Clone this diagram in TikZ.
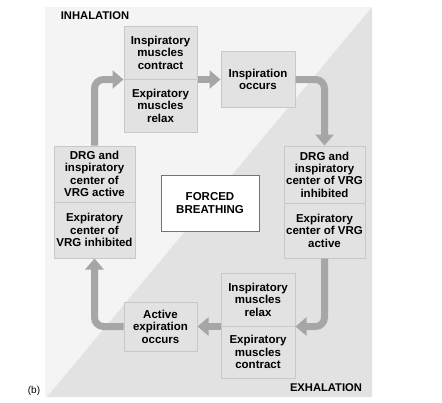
\documentclass[tikz,border=0pt]{standalone}
\usepackage{xcolor}
\usepackage{fontspec}
\setmainfont{Liberation Sans}
\usepackage{tikz}
\usetikzlibrary{arrows.meta}

\definecolor{panellight}{HTML}{F4F4F4}
\definecolor{paneldark}{HTML}{E2E2E2}
\definecolor{boxfill}{HTML}{E2E2E2}
\definecolor{boxline}{HTML}{C8C8C8}
\definecolor{arrowgray}{HTML}{A6A6A6}

\begin{document}
\begin{tikzpicture}[
    x=1pt, y=-1pt,
    box/.style={
        draw=boxline,
        fill=boxfill,
        line width=1pt,
        align=center,
        inner sep=0pt,
        font=\fontsize{11.5}{12.4}\selectfont\bfseries
    },
    arrow/.style={
        -{Triangle[length=11pt,width=18pt]},
        draw=arrowgray,
        line width=7pt,
        rounded corners=9pt
    },
    label/.style={
        font=\fontsize{11.2}{12}\selectfont\bfseries,
        inner sep=0pt
    }
]

\useasboundingbox (0,0) rectangle (442,402);

% background: inhalation half and exhalation half
\fill[panellight] (45,7) rectangle (372,397);
\fill[paneldark] (47,397) -- (372,7) -- (372,397) -- cycle;

\node[label] (inhal) at (95,16) {INHALATION};
\node[label] (exhal) at (326,388) {EXHALATION};
\node[label, font=\fontsize{10}{12}\selectfont] (part) at (34,391) {(b)};

\node[box, minimum width=73pt, minimum height=53pt] (muscontract) at (160.5,52.5)
{
    Inspiratory\\
    muscles\\
    contract
};

\node[box, minimum width=73pt, minimum height=53pt] (musrelax) at (160.5,105.5)
{
    Expiratory\\
    muscles\\
    relax
};

\node[box, minimum width=74pt, minimum height=56pt] (inspiration) at (258,79.5)
{
    Inspiration\\
    occurs
};

\node[box, minimum width=81pt, minimum height=57pt] (drginhib) at (324.5,174.5)
{
    DRG and\\
    inspiratory\\
    center of VRG\\
    inhibited
};

\node[box, minimum width=81pt, minimum height=55pt] (expactive) at (324.5,230.5)
{
    Expiratory\\
    center of VRG\\
    active
};

\node[box, minimum width=81pt, minimum height=56pt] (drgactive) at (94.5,174)
{
    DRG and\\
    inspiratory\\
    center of\\
    VRG active
};

\node[box, minimum width=81pt, minimum height=56pt] (expinhib) at (94.5,230)
{
    Expiratory\\
    center of\\
    VRG inhibited
};

\node[box, fill=white, draw=black!55, minimum width=98pt, minimum height=56pt] (forced) at (210,203)
{
    FORCED\\
    BREATHING
};

\node[box, minimum width=74pt, minimum height=53pt] (insrelax) at (258,299.5)
{
    Inspiratory\\
    muscles\\
    relax
};

\node[box, minimum width=74pt, minimum height=52pt] (expcontract) at (258,352)
{
    Expiratory\\
    muscles\\
    contract
};

\node[box, minimum width=73pt, minimum height=49pt] (activeexp) at (160.5,326.5)
{
    Active\\
    expiration\\
    occurs
};

\draw[arrow] (drgactive.north) |- (muscontract.south west);
\draw[arrow] (muscontract.south east) -- (inspiration.west);
\draw[arrow] (inspiration.east) -| (drginhib.north);

\draw[arrow] (expactive.south) |- (insrelax.south east);
\draw[arrow] (insrelax.south west) -- (activeexp.east);
\draw[arrow] (activeexp.west) -| (expinhib.south);

\end{tikzpicture}
\end{document}
